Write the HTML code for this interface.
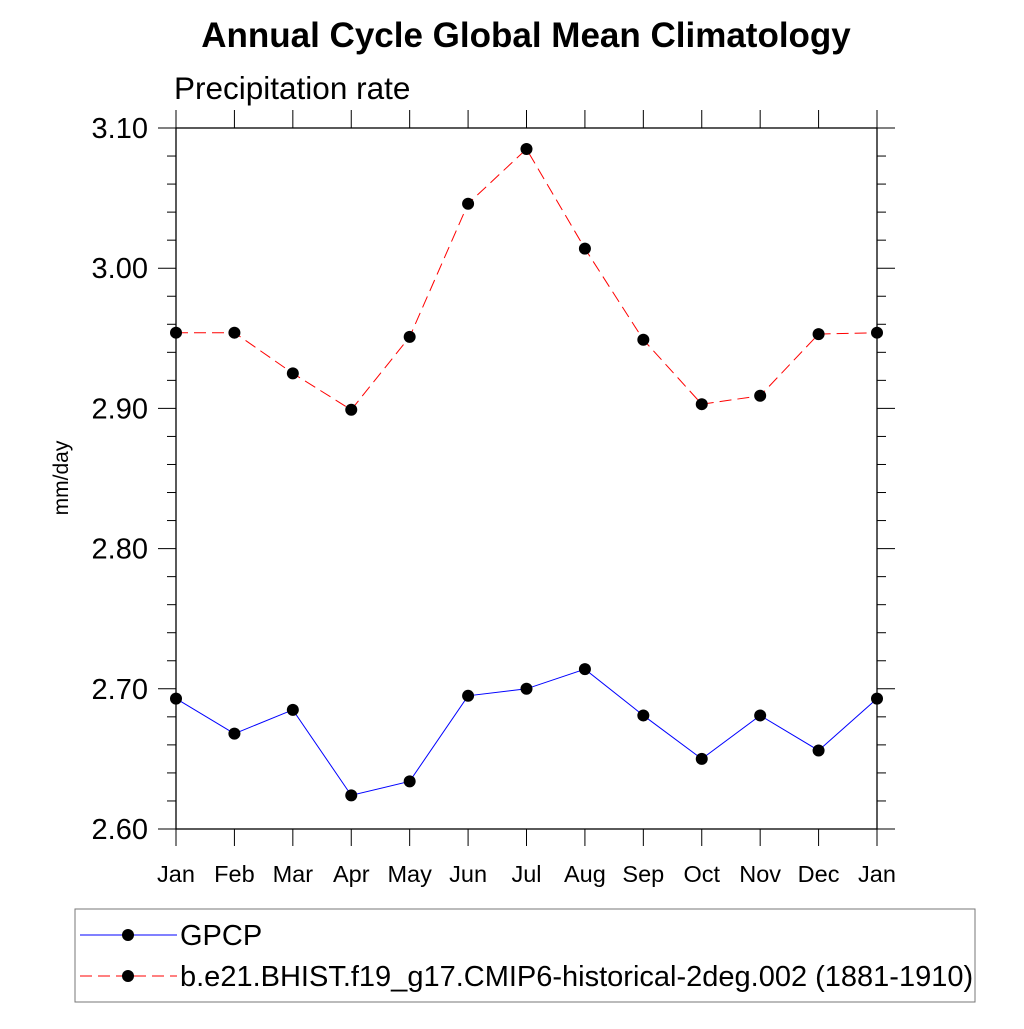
<!DOCTYPE html>
<html><head><meta charset="utf-8"><style>
body{margin:0;background:#fff;}
svg text{font-family:"Liberation Sans",sans-serif;}
</style></head><body>
<svg id="chart" width="1024" height="1024" xmlns="http://www.w3.org/2000/svg">
<text x="526" y="47" text-anchor="middle" font-size="35" font-weight="bold">Annual Cycle Global Mean Climatology</text>
<text x="174" y="99" font-size="31.5">Precipitation rate</text>
<text transform="translate(68,478) rotate(-90)" text-anchor="middle" font-size="21">mm/day</text>
<g id="axes"></g>
<g id="series"></g>
<rect x="75" y="909" width="900" height="93" fill="none" stroke="#777" stroke-width="1"/>
<g>
<line x1="80" y1="935" x2="177" y2="935" stroke="#00f" stroke-width="1"/>
<circle cx="128" cy="935" r="6" fill="#000"/>
<text x="180" y="945" font-size="29">GPCP</text>
</g>
<g>
<line x1="80" y1="976" x2="177" y2="976" stroke="#f00" stroke-width="1" stroke-dasharray="12,6"/>
<circle cx="128" cy="976" r="6" fill="#000"/>
<text x="180" y="986" font-size="29">b.e21.BHIST.f19_g17.CMIP6-historical-2deg.002 (1881-1910)</text>
</g>
</svg>
<script>
const months=["Jan","Feb","Mar","Apr","May","Jun","Jul","Aug","Sep","Oct","Nov","Dec","Jan"];
const gpcp=[2.693,2.668,2.685,2.624,2.634,2.695,2.700,2.714,2.681,2.650,2.681,2.656,2.693];
const model=[2.954,2.954,2.925,2.899,2.951,3.046,3.085,3.014,2.949,2.903,2.909,2.953,2.954];
const yTicks=["2.60","2.70","2.80","2.90","3.00","3.10"];
const L=176,R=877,T=128,B=829,yMin=2.6,yMax=3.1;
const xs=i=>L+i*(R-L)/(months.length-1);
const ys=v=>B-(v-yMin)/(yMax-yMin)*(B-T);
const NS="http://www.w3.org/2000/svg";
function mk(t,a,p){const e=document.createElementNS(NS,t);for(const k in a)e.setAttribute(k,a[k]);p.appendChild(e);return e;}
const ax=document.getElementById('axes');
const fr=mk('rect',{x:L,y:T,width:R-L,height:B-T,fill:'none',stroke:'#000','stroke-width':1.3},ax);


months.forEach((m,i)=>{const x=xs(i);
mk('line',{x1:x,y1:T-18,x2:x,y2:T,stroke:'#000','stroke-width':1},ax);
mk('line',{x1:x,y1:B,x2:x,y2:B+17,stroke:'#000','stroke-width':1},ax);
const t=mk('text',{x:x,y:882,'text-anchor':'middle','font-size':23.5},ax);t.textContent=m;


});
for(let k=0;k<=25;k++){const v=yMin+k*0.02;const y=ys(v);const major=k%5===0;const len=major?18:9;
mk('line',{x1:L-len,y1:y,x2:L,y2:y,stroke:'#000','stroke-width':1},ax);
mk('line',{x1:R,y1:y,x2:R+len,y2:y,stroke:'#000','stroke-width':1},ax);}
yTicks.forEach(s=>{const t=mk('text',{x:148,y:ys(parseFloat(s))+10,'text-anchor':'end','font-size':29},ax);t.textContent=s;

});
const sg=document.getElementById('series');
function draw(vals,color,dash,name){
const g=mk('g',{},sg);


mk('polyline',{points:vals.map((v,i)=>xs(i)+','+ys(v)).join(' '),fill:'none',stroke:color,'stroke-width':1,'stroke-dasharray':dash},g);
vals.forEach((v,i)=>{const c=mk('circle',{cx:xs(i),cy:ys(v),r:6,fill:'#000'},g);

});
}
draw(model,'#f00','12,6','model-series');
draw(gpcp,'#00f','none','gpcp-series');
</script>
</body></html>
